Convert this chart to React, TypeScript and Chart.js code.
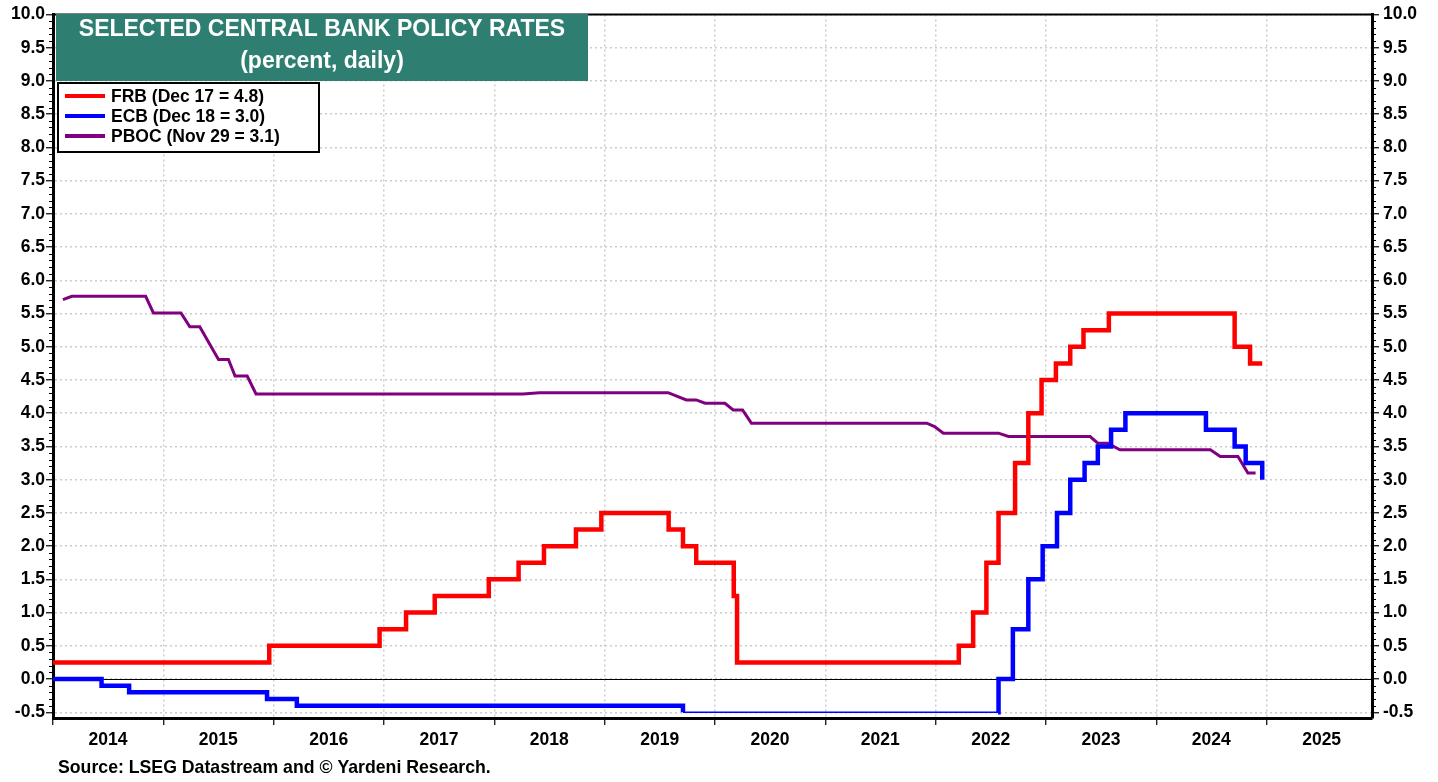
import React, { useEffect, useRef } from 'react';
import { Chart, registerables } from 'chart.js';

Chart.register(...registerables);

// ---------- data ----------
const YEAR_TICKS = [2014, 2015, 2016, 2017, 2018, 2019, 2020, 2021, 2022, 2023, 2024, 2025];
const Y_TICKS = [-0.5, 0, 0.5, 1, 1.5, 2, 2.5, 3, 3.5, 4, 4.5, 5, 5.5, 6, 6.5, 7, 7.5, 8, 8.5, 9, 9.5, 10];

const FRB_DATES = [2014.0, 2015.96, 2016.96, 2017.2, 2017.46, 2017.95, 2018.22, 2018.45, 2018.74, 2018.97, 2019.58, 2019.71, 2019.83, 2020.17, 2020.2, 2022.21, 2022.34, 2022.46, 2022.57, 2022.72, 2022.84, 2022.96, 2023.09, 2023.22, 2023.34, 2023.57, 2024.71, 2024.85, 2024.96];
const FRB_RATES = [0.25, 0.5, 0.75, 1.0, 1.25, 1.5, 1.75, 2.0, 2.25, 2.5, 2.25, 2.0, 1.75, 1.25, 0.25, 0.5, 1.0, 1.75, 2.5, 3.25, 4.0, 4.5, 4.75, 5.0, 5.25, 5.5, 5.0, 4.75, 4.75];

const ECB_DATES = [2014.0, 2014.44, 2014.69, 2015.94, 2016.21, 2019.71, 2022.565, 2022.57, 2022.7, 2022.84, 2022.97, 2023.1, 2023.22, 2023.35, 2023.47, 2023.59, 2023.72, 2024.45, 2024.71, 2024.81, 2024.96];
const ECB_RATES = [0, -0.1, -0.2, -0.3, -0.4, -0.5, -0.5, 0.0, 0.75, 1.5, 2.0, 2.5, 3.0, 3.25, 3.5, 3.75, 4.0, 3.75, 3.5, 3.25, 3.0];

const PBOC_DATES = [2014.09, 2014.17, 2014.84, 2014.91, 2015.16, 2015.24, 2015.33, 2015.5, 2015.59, 2015.65, 2015.76, 2015.84, 2018.26, 2018.41, 2019.575, 2019.74, 2019.83, 2019.91, 2020.09, 2020.165, 2020.25, 2020.33, 2021.92, 2021.99, 2022.07, 2022.57, 2022.66, 2023.4, 2023.47, 2023.56, 2023.67, 2024.49, 2024.58, 2024.74, 2024.83, 2024.9];
const PBOC_RATES = [5.71, 5.76, 5.76, 5.51, 5.51, 5.3, 5.3, 4.81, 4.81, 4.56, 4.56, 4.29, 4.29, 4.31, 4.31, 4.2, 4.2, 4.15, 4.15, 4.05, 4.05, 3.85, 3.85, 3.8, 3.7, 3.7, 3.65, 3.65, 3.55, 3.55, 3.45, 3.45, 3.35, 3.35, 3.1, 3.1];

const SERIES_LABELS = ['FRB (Dec 17 = 4.8)', 'ECB (Dec 18 = 3.0)', 'PBOC (Nov 29 = 3.1)'];
const SERIES_COLORS = ['#ff0000', '#0000ff', '#800080'];
const TITLE_LINES = ['SELECTED CENTRAL BANK POLICY RATES', '(percent, daily)'];
const SOURCE_TEXT = 'Source: LSEG Datastream and \u00A9 Yardeni Research.';

const FONT = "'Liberation Sans', Arial, sans-serif";
const GRID_COLOR = '#cccccc';

const toPoints = (xs: number[], ys: number[]) => xs.map((x, i) => ({ x, y: ys[i] }));

const overlayPlugin = {
  id: 'overlay',
  beforeDatasetsDraw(chart: any) {
    const { ctx, chartArea } = chart;
    const y0 = chart.scales.y.getPixelForValue(0);
    ctx.save();
    ctx.strokeStyle = '#000';
    ctx.lineWidth = 1;
    ctx.beginPath();
    ctx.moveTo(chartArea.left, Math.round(y0) + 0.5);
    ctx.lineTo(chartArea.right, Math.round(y0) + 0.5);
    ctx.stroke();
    ctx.restore();
  },
  afterDraw(chart: any) {
    const { ctx, chartArea } = chart;
    const yScale = chart.scales.y;
    ctx.save();
    // top frame
    ctx.strokeStyle = '#000';
    ctx.lineWidth = 2;
    ctx.beginPath();
    ctx.moveTo(chartArea.left - 1, chartArea.top);
    ctx.lineTo(chartArea.right + 1, chartArea.top);
    ctx.stroke();
    // minor ticks
    ctx.lineWidth = 1.2;
    for (let k = 0; k <= 105; k++) {
      if (k % 5 === 0) continue;
      const v = -0.5 + k * 0.1;
      const py = Math.round(yScale.getPixelForValue(v)) + 0.5;
      ctx.beginPath();
      ctx.moveTo(chartArea.left - 4, py);
      ctx.lineTo(chartArea.left, py);
      ctx.moveTo(chartArea.right, py);
      ctx.lineTo(chartArea.right + 4, py);
      ctx.stroke();
    }
    // title box
    ctx.fillStyle = 'rgb(46,127,113)';
    ctx.fillRect(56, 14, 532, 67);
    ctx.fillStyle = '#fff';
    ctx.font = `bold 23px ${FONT}`;
    ctx.textAlign = 'center';
    ctx.textBaseline = 'middle';
    ctx.fillText(TITLE_LINES[0], 322, 30);
    ctx.fillText(TITLE_LINES[1], 322, 62);
    // legend box
    ctx.fillStyle = '#fff';
    ctx.fillRect(58, 83, 261, 69);
    ctx.strokeStyle = '#000';
    ctx.lineWidth = 2;
    ctx.strokeRect(58, 83, 261, 69);
    ctx.font = `bold 17.5px ${FONT}`;
    ctx.textAlign = 'left';
    chart.data.datasets.forEach((ds: any, i: number) => {
      const ry = 96 + i * 20;
      ctx.strokeStyle = ds.borderColor;
      ctx.lineWidth = 4;
      ctx.beginPath();
      ctx.moveTo(65, ry);
      ctx.lineTo(105, ry);
      ctx.stroke();
      ctx.fillStyle = '#000';
      ctx.fillText(ds.label, 111, ry + 1);
    });
    // source
    ctx.font = `bold 17.7px ${FONT}`;
    ctx.fillStyle = '#000';
    ctx.fillText(SOURCE_TEXT, 58, 768);
    ctx.restore();
  },
};

const yAxisCommon = (position: 'left' | 'right') => ({
  type: 'linear' as const,
  position,
  min: -0.586,
  max: 10,
  afterBuildTicks: (scale: any) => {
    scale.ticks = Y_TICKS.map((v) => ({ value: v }));
  },
  afterFit: (scale: any) => {
    scale.width = position === 'left' ? 53 : 66;
  },
  ticks: {
    callback: (v: any) => Number(v).toFixed(1),
    font: { family: FONT, size: 17.5, weight: 'bold' as const },
    color: '#000',
    padding: position === 'left' ? 1 : 4,
    autoSkip: false,
  },
  grid: {
    display: true,
    drawOnChartArea: position === 'left',
    color: GRID_COLOR,
    lineWidth: 1.5,
    tickColor: '#000',
    tickLength: 7,
    tickWidth: 1.2,
  },
  border: { display: true, color: '#000', width: 3, dash: [2, 3] },
});

export default function App() {
  const ref = useRef<HTMLCanvasElement>(null);
  useEffect(() => {
    const canvas = ref.current;
    if (!canvas) return;
    const chart = new Chart(canvas, {
      type: 'line',
      data: {
        datasets: [
          {
            label: SERIES_LABELS[0],
            data: toPoints(FRB_DATES, FRB_RATES),
            borderColor: SERIES_COLORS[0],
            borderWidth: 4.5,
            stepped: true,
            pointRadius: 0,
            fill: false,
          },
          {
            label: SERIES_LABELS[1],
            data: toPoints(ECB_DATES, ECB_RATES),
            borderColor: SERIES_COLORS[1],
            borderWidth: 4.5,
            stepped: true,
            pointRadius: 0,
            fill: false,
            segment: {
              borderWidth: (ctx: any) =>
                ctx.p0.parsed.y === -0.5 && ctx.p1.parsed.y === -0.5 ? 1.6 : 4.5,
            },
          },
          {
            label: SERIES_LABELS[2],
            data: toPoints(PBOC_DATES, PBOC_RATES),
            borderColor: SERIES_COLORS[2],
            borderWidth: 3,
            pointRadius: 0,
            tension: 0,
            fill: false,
          },
        ],
      },
      options: {
        responsive: false,
        devicePixelRatio: 1,
        animation: false,
        events: [],
        layout: { padding: { top: 14, left: 0, right: 0, bottom: 0 } },
        plugins: {
          legend: { display: false },
          tooltip: { enabled: false },
          title: { display: false },
        },
        scales: {
          x: {
            type: 'linear',
            position: 'bottom',
            min: 2014,
            max: 2025.955,
            afterBuildTicks: (scale: any) => {
              scale.ticks = YEAR_TICKS.map((v) => ({ value: v }));
            },
            afterFit: (scale: any) => {
              scale.height = 64;
            },
            ticks: {
              callback: (v: any) => String(v),
              labelOffset: 55,
              padding: 5,
              maxRotation: 0,
              autoSkip: false,
              font: { family: FONT, size: 17.5, weight: 'bold' },
              color: '#000',
            },
            grid: {
              color: (c: any) => (c.tick && c.tick.value === 2014 ? 'rgba(0,0,0,0)' : GRID_COLOR),
              lineWidth: 1.5,
              tickColor: '#000',
              tickLength: 7,
              tickWidth: 1.2,
            },
            border: { display: true, color: '#000', width: 3, dash: [2, 3] },
          },
          y: yAxisCommon('left') as any,
          y2: yAxisCommon('right') as any,
        },
      },
      plugins: [overlayPlugin],
    });
    return () => chart.destroy();
  }, []);
  return (
    <div style={{ position: 'absolute', left: 0, top: 0, width: 1438, height: 782, background: '#fff' }}>
      <canvas ref={ref} width={1438} height={782} style={{ display: 'block', width: 1438, height: 782 }} />
    </div>
  );
}
